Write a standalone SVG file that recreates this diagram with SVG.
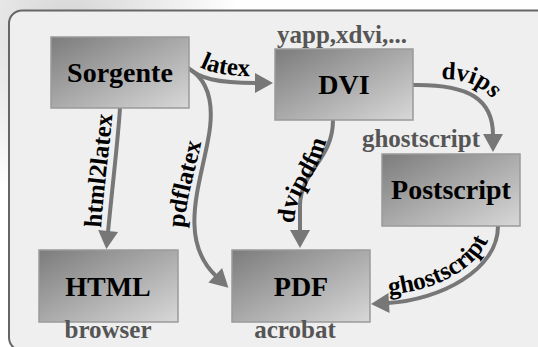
<svg xmlns="http://www.w3.org/2000/svg" width="538" height="347" viewBox="0 0 538 347">
<style>
.box{stroke:#9a9a9a;stroke-width:1.5;fill:url(#bg)}
text{font-family:"Liberation Serif","Times New Roman","DejaVu Serif",serif;font-weight:bold}
.nt{font-size:28px;fill:#000;text-anchor:middle}
.lt{font-size:25px;fill:#555;text-anchor:middle}
.et{font-size:25px;fill:#000}
.edge{fill:none;stroke:#777;stroke-width:4;marker-end:url(#ah)}
</style>
<defs>
<linearGradient id="bg" x1="0" y1="0" x2="1" y2="1">
<stop offset="0" stop-color="#7c7c7c"/>
<stop offset="1" stop-color="#d8d8d8"/>
</linearGradient>
<radialGradient id="cloud" cx="70" cy="30" r="170" gradientUnits="userSpaceOnUse">
<stop offset="0" stop-color="#d4d4d4"/>
<stop offset="1" stop-color="#ffffff"/>
</radialGradient>
<marker id="ah" markerUnits="userSpaceOnUse" markerWidth="20" markerHeight="22" refX="1" refY="10" orient="auto" overflow="visible">
<path d="M0,0 L18,10 L0,20 Z" fill="#777"/>
</marker>
<path id="p-latex" d="M198,66 Q215,76 252,76"/>
<path id="p-html" d="M101,228 C104,185 110,145 113,108"/>
<path id="p-pdfl" d="M184,228 C187,190 200,160 204,124"/>
<path id="p-dvipdfm" d="M294,224 C295,185 327,172 328,122"/>
<path id="p-dvips" d="M441,79 C481,79 500,98 502,128"/>
<path id="p-gs" d="M383,295 C434,293 489,266 492,224"/>
</defs>
<rect x="0" y="0" width="538" height="347" fill="#fff"/>
<rect x="0" y="0" width="538" height="347" fill="url(#cloud)"/>
<rect x="9" y="10.5" width="545" height="340" rx="13" fill="#efefef" stroke="#666" stroke-width="2"/>
<g id="connectors">
<path class="edge" d="M188,68 C200,78 215,83 256,83"/>
<path class="edge" d="M120,108 C118,140 113,180 108,232"/>
<path class="edge" d="M188,68 C212,82 214,110 208,140 C200,185 178,240 216,276"/>
<path class="edge" d="M333,120 C333,160 301,170 300,205 L300,231"/>
<path class="edge" d="M413,85 C470,84 493,100 493,135"/>
<path class="edge" d="M498,226 C498,270 440,300 388,303"/>
<text class="et"><textPath href="#p-latex" startOffset="2">latex</textPath></text>
<text class="et"><textPath href="#p-html" startOffset="0">html2latex</textPath></text>
<text class="et"><textPath href="#p-pdfl" startOffset="0">pdflatex</textPath></text>
<text class="et"><textPath href="#p-dvipdfm" startOffset="0">dvipdfm</textPath></text>
<text class="et"><textPath href="#p-dvips" startOffset="0">dvips</textPath></text>
<text class="et"><textPath href="#p-gs" startOffset="6">ghostscript</textPath></text>
</g>
<g id="sorgente">
<rect class="box" x="51" y="37" width="138" height="71"/>
<text class="nt" x="120" y="82">Sorgente</text>
</g>
<g id="dvi">
<rect class="box" x="275" y="49" width="138" height="71"/>
<text class="nt" x="344" y="94">DVI</text>
<text class="lt" x="342" y="43">yapp,xdvi,...</text>
</g>
<g id="postscript">
<rect class="box" x="382" y="154" width="138" height="72"/>
<text class="nt" x="451" y="199">Postscript</text>
<text class="lt" x="421" y="147">ghostscript</text>
</g>
<g id="html">
<rect class="box" x="39" y="250" width="139" height="72"/>
<text class="nt" x="108" y="296">HTML</text>
<text class="lt" x="108" y="338">browser</text>
</g>
<g id="pdf">
<rect class="box" x="232" y="250" width="138" height="72"/>
<text class="nt" x="301" y="296">PDF</text>
<text class="lt" x="295" y="338">acrobat</text>
</g>
</svg>
